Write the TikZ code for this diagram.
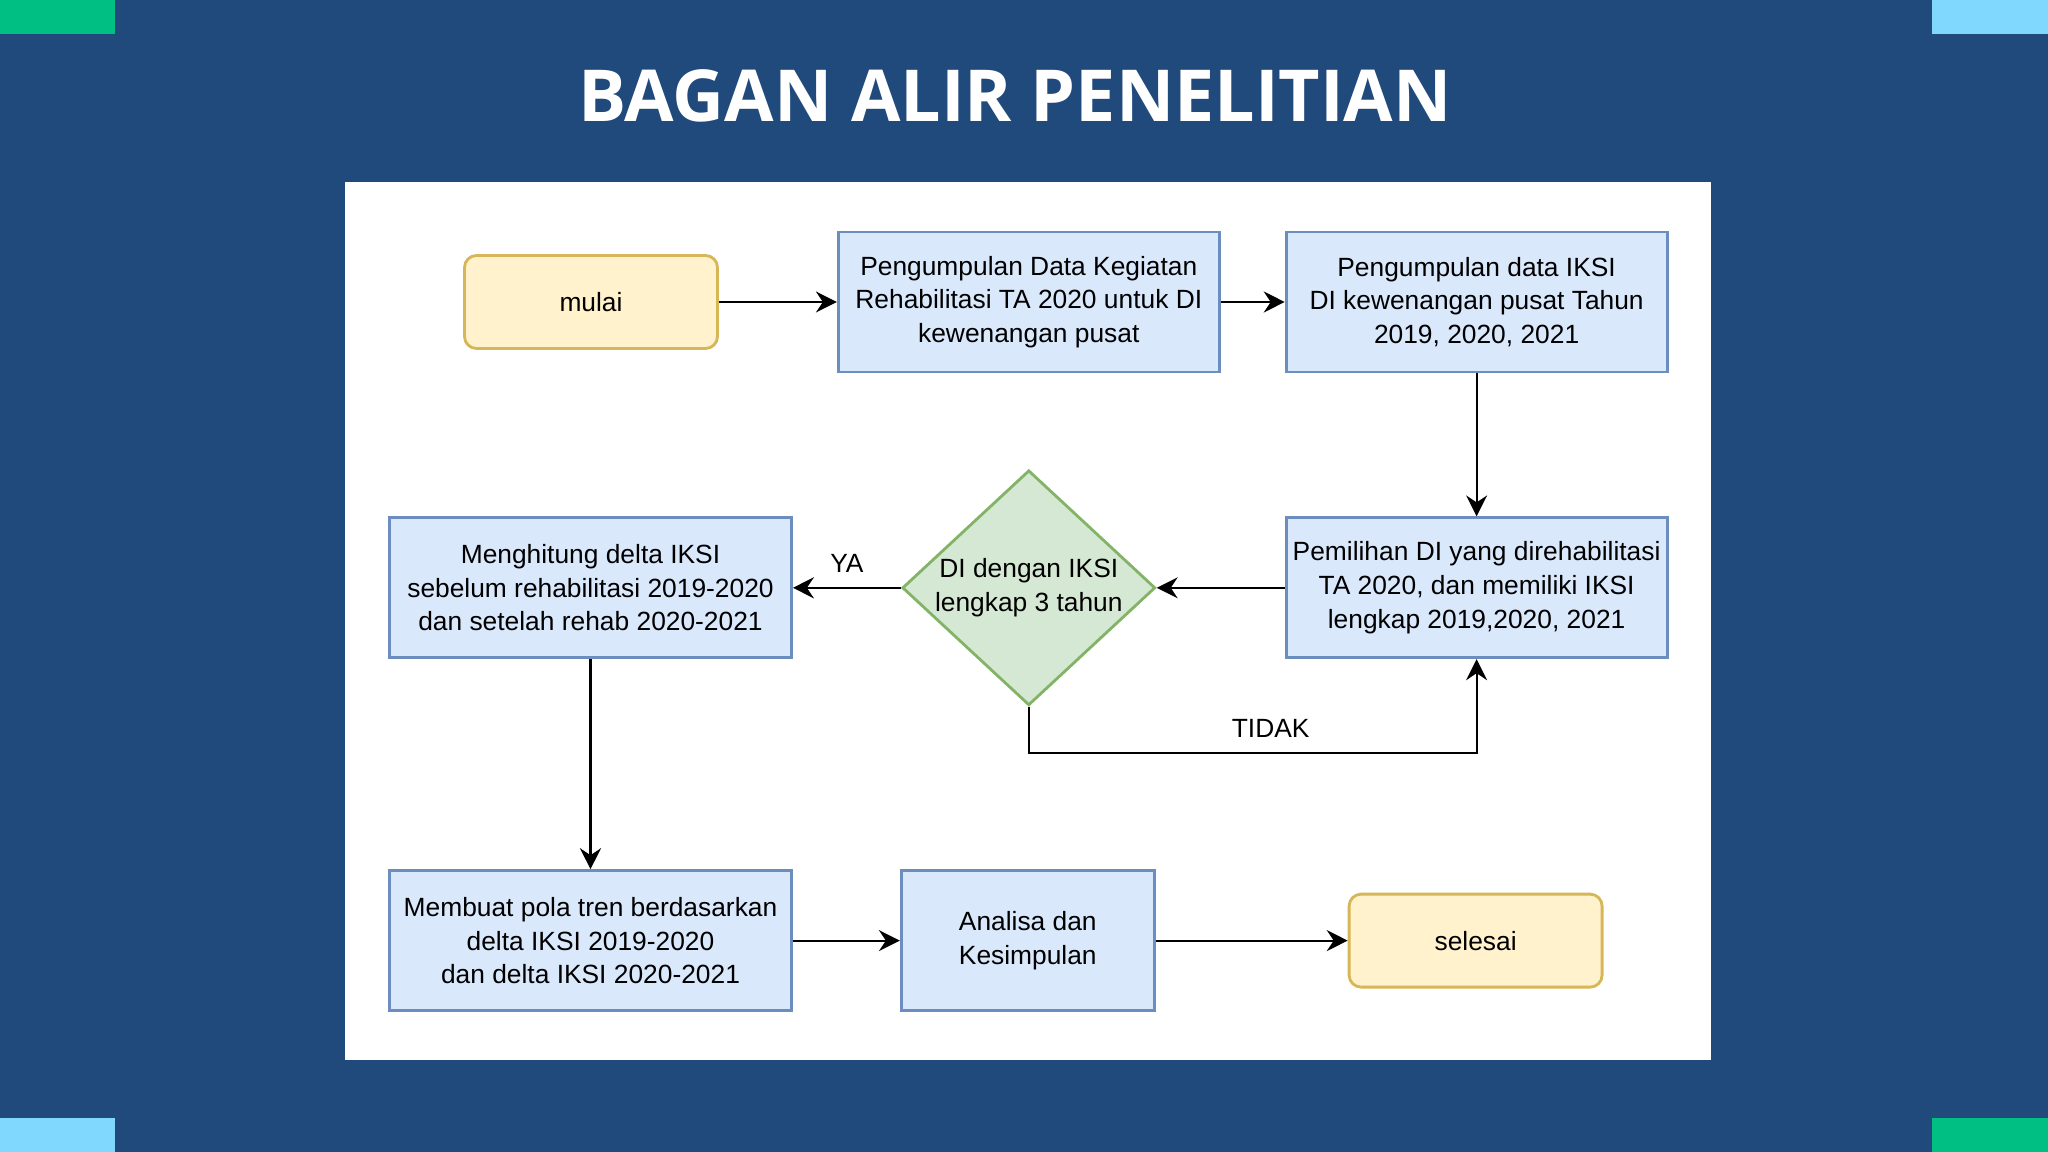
\documentclass[tikz,border=0pt]{standalone}
\usepackage{fontspec}
\setmainfont{Liberation Sans}
\newfontfamily\titlefont{Open Sans}
\usepackage{tikz}
\usetikzlibrary{arrows.meta, positioning, shapes.geometric}
\definecolor{slideblue}{RGB}{32,73,124}
\definecolor{cornergreen}{RGB}{0,191,131}
\definecolor{cornersky}{RGB}{128,216,255}
\definecolor{procfill}{RGB}{218,232,252}
\definecolor{procdraw}{RGB}{108,142,191}
\definecolor{termfill}{RGB}{255,242,204}
\definecolor{termdraw}{RGB}{214,182,86}
\definecolor{decfill}{RGB}{213,232,212}
\definecolor{decdraw}{RGB}{130,179,102}
\tikzstyle{proc}  = [rectangle, draw=procdraw, line width=0.8pt, fill=procfill,
                     minimum width=3.81cm, minimum height=1.40cm, align=center,
                     inner sep=1pt, font=\fontsize{7.5}{9.6}\selectfont]
\tikzstyle{term}  = [rectangle, rounded corners=0.12cm, draw=termdraw, line width=0.8pt, fill=termfill,
                     minimum width=2.53cm, minimum height=0.93cm, align=center,
                     font=\fontsize{7.5}{9.6}\selectfont]
\tikzstyle{dec}   = [diamond, draw=decdraw, line width=0.8pt, fill=decfill, aspect=1.076,
                     minimum width=2.53cm, minimum height=2.35cm, inner sep=-4pt, align=center,
                     font=\fontsize{7.5}{9.6}\selectfont]
\tikzstyle{lbl}   = [font=\fontsize{7.5}{9.6}\selectfont, inner sep=1pt]
\tikzstyle{arr}   = [-{Stealth[length=2.1mm, width=2.1mm, inset=0.7mm]}, line width=0.6pt]

\begin{document}
\begin{tikzpicture}[node distance=1.2cm and 1.2cm]
    % slide background
    \fill[slideblue] (0,0) rectangle (20.48,-11.52);
    \useasboundingbox (0,0) rectangle (20.48,-11.52);
    \fill[cornergreen] (0,0) rectangle (1.15,-0.34);
    \fill[cornersky] (19.32,0) rectangle (20.48,-0.34);
    \fill[cornersky] (0,-11.18) rectangle (1.15,-11.52);
    \fill[cornergreen] (19.32,-11.18) rectangle (20.48,-11.52);
    \fill[white] (3.45,-1.82) rectangle (17.11,-10.60);
    \node[text=white, font=\titlefont\bfseries\fontsize{20.4}{24}\selectfont] (title) at (10.15,-0.96) {BAGAN ALIR PENELITIAN};

    % flow
    \node[term] (mulai) at (5.91,-3.02) {mulai};
    \node[proc, right=1.18cm of mulai] (kegiatan) {Pengumpulan Data Kegiatan\\Rehabilitasi TA 2020 untuk DI\\kewenangan pusat};
    \node[proc, right=0.64cm of kegiatan] (iksi) {Pengumpulan data IKSI\\DI kewenangan pusat Tahun\\2019, 2020, 2021};
    \node[proc, below=1.43cm of iksi] (pilih) {Pemilihan DI yang direhabilitasi\\TA 2020, dan memiliki IKSI\\lengkap 2019,2020, 2021};
    \node[dec, left=1.28cm of pilih] (cek) {DI dengan IKSI\\lengkap 3 tahun};
    \node[proc, minimum width=4.02cm, left=1.08cm of cek] (delta) {Menghitung delta IKSI\\sebelum rehabilitasi 2019-2020\\dan setelah rehab 2020-2021};
    \node[proc, minimum width=4.02cm, below=2.10cm of delta] (pola) {Membuat pola tren berdasarkan\\delta IKSI 2019-2020\\dan delta IKSI 2020-2021};
    \node[proc, minimum width=2.53cm, right=1.07cm of pola] (analisa) {Analisa dan\\Kesimpulan};
    \node[term, right=1.92cm of analisa] (selesai) {selesai};

    \draw[arr] (mulai) -- (kegiatan);
    \draw[arr] (kegiatan) -- (iksi);
    \draw[arr] (iksi) -- (pilih);
    \draw[arr] (pilih) -- (cek);
    \draw[arr] (cek) -- node[lbl, above=3pt] {YA} (delta);
    \draw[arr] (cek.south) -- ++(0,-0.46) -| node[lbl, pos=0.27, above=3pt] {TIDAK} (pilih.south);
    \draw[arr] (delta) -- (pola);
    \draw[arr] (pola) -- (analisa);
    \draw[arr] (analisa) -- (selesai);
  \end{tikzpicture}
\end{document}
